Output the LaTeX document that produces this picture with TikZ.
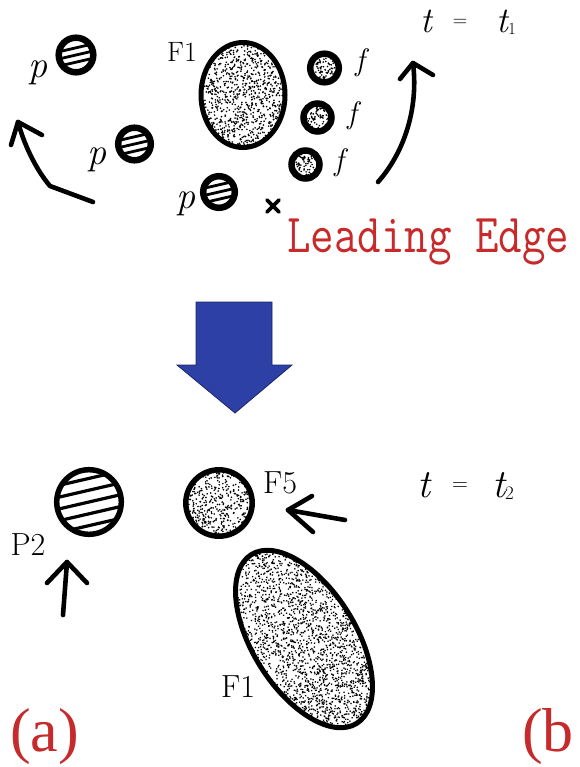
\documentclass[tikz,border=0pt]{standalone}
\usepackage{fontspec}
\usepackage{graphicx}
\newfontfamily\timesfont{Liberation Serif}
\definecolor{labred}{RGB}{198,42,42}
\definecolor{arrblue}{RGB}{44,64,166}
\definecolor{arrblueedge}{RGB}{28,38,100}
\tikzset{
  motion/.style={line width=4.6pt, line cap=round, line join=round},
  ring/.style={line width=#1},
  lbl/.style={inner sep=0pt, anchor=base},
}
% #1 half width, #2 half height, #3 number of chunks of 100 dots
\newcommand{\stipplefill}[3]{%
  \foreach \j in {1,...,#3}{%
    \fill[black] foreach \k in {1,...,100} { ({#1*rand},{#2*rand}) circle (0.9) };}}
\newcommand{\hatchball}[6]{%
  \begin{scope}
    \clip (#1,#2) circle (#3);
    \begin{scope}[shift={(#1,#2)},rotate=13]
      \foreach \o in {#5} \draw[line width=#6] (-45,\o) -- (45,\o);
    \end{scope}
  \end{scope}
  \draw[line width=#4] (#1,#2) circle (#3);}
\newcommand{\stippleball}[5]{%
  \begin{scope}
    \clip (#1,#2) circle (#3);
    \begin{scope}[shift={(#1,#2)}]\stipplefill{#3}{#3}{#5}\end{scope}
  \end{scope}
  \draw[line width=#4] (#1,#2) circle (#3);}
\begin{document}
\begin{tikzpicture}[x=1pt,y=-1pt]
\pgfmathsetseed{4711}
\useasboundingbox (0,0) rectangle (579,767);

% ---------- top panel ----------
% hatched particles p
\hatchball{76}{55}{17.3}{6.5pt}{-7,0,7}{2.8pt}
\hatchball{134.5}{144}{16.3}{6.5pt}{-7,0,7}{2.8pt}
\hatchball{219}{192}{15.8}{6.5pt}{-7,0,7}{2.8pt}
\node[lbl] (p1) at (38,78) {\fontsize{38}{38}\selectfont\itshape p};
\node[lbl] (p2) at (97,165) {\fontsize{38}{38}\selectfont\itshape p};
\node[lbl] (p3) at (186,208) {\fontsize{38}{38}\selectfont\itshape p};

% big ellipse F1
\begin{scope}
  \clip (243,95) ellipse [x radius=42, y radius=52.5];
  \begin{scope}[shift={(243,95)}]\stipplefill{42}{53}{11}\end{scope}
\end{scope}
\draw[ring=5pt] (243,95) ellipse [x radius=42, y radius=52.5];
\node[lbl] (F1top) at (182,62) {\fontsize{28}{28}\selectfont F1};

% small stippled f
\stippleball{324.5}{68}{14.3}{6.5pt}{1}
\stippleball{317.5}{117.5}{14}{6.5pt}{1}
\stippleball{305.5}{164.5}{14}{6.5pt}{1}
\node[lbl] (f1) at (360,71) {\fontsize{31}{31}\selectfont\itshape f};
\node[lbl] (f2) at (352,124) {\fontsize{31}{31}\selectfont\itshape f};
\node[lbl] (f3) at (339,171) {\fontsize{31}{31}\selectfont\itshape f};

% cross mark
\coordinate (x0) at (273,206);
\draw[line width=3.6pt, line cap=round] ([shift={(-6,-6)}]x0) -- ([shift={(6,6)}]x0)
  ([shift={(-6,6)}]x0) -- ([shift={(6,-6)}]x0);

% time label
\node[lbl, anchor=base west] (tone) at (420,33) {\fontsize{36}{36}\selectfont\itshape t\hspace{21pt}{\upshape\fontsize{20}{20}\selectfont\raisebox{6pt}{=}}\hspace{29pt}t\raisebox{-2pt}{\upshape\fontsize{17}{17}\selectfont 1}};

% motion arrows (top)
\coordinate (la0) at (93,202);
\coordinate (la1) at (50,186);
\coordinate (latip) at (18,122);
\draw[motion] (la0) -- (la1) .. controls (38,172) and (25,148) .. (latip);
\draw[motion] (11,145) -- (latip) -- (42,135);

\coordinate (ra0) at (378,182);
\coordinate (ratip) at (413,63);
\draw[motion] (ra0) .. controls (402,155) and (419,112) .. (ratip);
\draw[motion] (400,79) -- (ratip) -- (433,75);

% Leading Edge
\node[lbl, anchor=base west, text=labred] (lead) at (287,252)
  {\scalebox{0.83}[1]{\fontsize{55}{55}\selectfont\ttfamily Leading Edge}};

% ---------- big blue arrow ----------
\draw[fill=arrblue, draw=arrblueedge, line width=0.8pt, line join=miter]
  (196,302) -- (272,302) -- (272,365) -- (292,365) -- (235,413) -- (177,365) -- (196,365) -- cycle;

% ---------- bottom panel ----------
\hatchball{89}{502}{32.3}{5.5pt}{-23,-11.5,0,11.5,23}{3.2pt}
\node[lbl] (P2) at (28,555) {\fontsize{32}{32}\selectfont P2};
\coordinate (pa0) at (63,615);
\coordinate (patip) at (67,562);
\draw[motion] (pa0) -- (patip);
\draw[motion] (47,583) -- (patip) -- (87,583);

\stippleball{219}{503}{33.2}{5.5pt}{5}
\node[lbl] (F5) at (280,493) {\fontsize{32}{32}\selectfont F5};
\coordinate (fa0) at (345,520);
\coordinate (fatip) at (288,510);
\draw[motion] (fa0) -- (fatip);
\draw[motion] (312,496) -- (fatip) -- (313,532);

\node[lbl, anchor=base west] (ttwo) at (417,497) {\fontsize{40}{40}\selectfont\itshape t\hspace{22pt}{\upshape\fontsize{22}{22}\selectfont\raisebox{7pt}{=}}\hspace{24pt}t\raisebox{-2pt}{\upshape\fontsize{19}{19}\selectfont 2}};

% tilted ellipse F1
\begin{scope}[shift={(304,639)},rotate=-58]
  \clip (0,0) ellipse [x radius=99.5, y radius=51.5];
  \stipplefill{100}{52}{26}
\end{scope}
\draw[ring=5pt, shift={(304,639)}, rotate=-58] (0,0) ellipse [x radius=99.5, y radius=51.5];
\node[lbl] (F1bot) at (238,697) {\fontsize{32}{32}\selectfont F1};

% panel letters
\node[lbl, anchor=base west, text=labred] (pa) at (10,751) {\fontsize{62}{62}\selectfont\timesfont (a)};
\node[lbl, anchor=base west, text=labred] (pb) at (522,751) {\fontsize{62}{62}\selectfont\timesfont (b};
\end{tikzpicture}
\end{document}
